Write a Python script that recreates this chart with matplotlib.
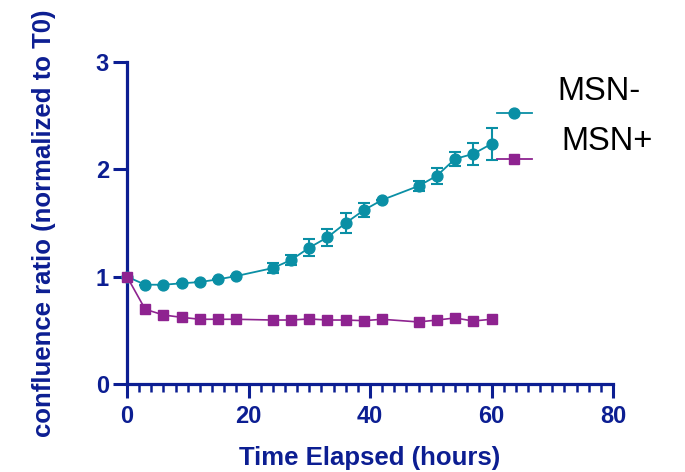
import matplotlib
matplotlib.use("Agg")
import matplotlib.pyplot as plt
from matplotlib.lines import Line2D
from matplotlib.ticker import MultipleLocator

plt.rcParams['font.family'] = ['Liberation Sans', 'DejaVu Sans']

# ---- data ----
hours = [0, 3, 6, 9, 12, 15, 18, 24, 27, 30, 33, 36, 39, 42, 48, 51, 54, 57, 60]
msn_minus = [1.00, 0.925, 0.925, 0.938, 0.95, 0.975, 1.006, 1.08, 1.155, 1.27, 1.367,
             1.50, 1.62, 1.715, 1.845, 1.94, 2.097, 2.144, 2.237]
msn_minus_err = [0.0, 0.0, 0.0, 0.0, 0.0, 0.0, 0.0, 0.05, 0.05, 0.08, 0.08,
                 0.096, 0.064, 0.0, 0.05, 0.072, 0.062, 0.104, 0.146]
msn_plus = [1.00, 0.696, 0.643, 0.621, 0.603, 0.603, 0.603, 0.596, 0.596, 0.606, 0.596,
            0.596, 0.59, 0.603, 0.578, 0.596, 0.615, 0.587, 0.603]
series_labels = ["MSN-", "MSN+"]
x_label = "Time Elapsed (hours)"
y_label = "confluence ratio (normalized to T0)"

navy = "#0c1e92"
teal = "#0a8fa5"
purple = "#8e2390"

W, H = 685, 472
fig = plt.figure(figsize=(W / 100, H / 100), dpi=100)
ax = fig.add_axes([127 / W, 88 / H, 486 / W, 322 / H])

ax.plot(hours, msn_plus, color=purple, lw=1.2, marker='s', ms=7.3, mec=purple, mfc=purple,
        clip_on=False, zorder=4)
ax.errorbar(hours, msn_minus, yerr=msn_minus_err, color=teal, lw=1.3, marker='o', ms=7.8,
            mec=teal, mfc=teal, capsize=4, capthick=1.5, elinewidth=1.5, clip_on=False, zorder=3)

ax.set_xlim(0, 80)
ax.set_ylim(0, 3)
ax.xaxis.set_major_locator(MultipleLocator(20))
ax.xaxis.set_minor_locator(MultipleLocator(2))
ax.yaxis.set_major_locator(MultipleLocator(1))

for s in ['top', 'right']:
    ax.spines[s].set_visible(False)
for s in ['left', 'bottom']:
    ax.spines[s].set_color(navy)
    ax.spines[s].set_linewidth(2.3)

ax.tick_params(axis='both', which='major', direction='out', length=10, width=2.2,
               color=navy, labelcolor=navy, labelsize=17)
ax.tick_params(axis='x', which='major', pad=5)
ax.tick_params(axis='y', which='major', pad=3)
ax.tick_params(axis='x', which='minor', direction='out', length=6, width=1.8, color=navy)
for lab in ax.get_xticklabels() + ax.get_yticklabels():
    lab.set_fontweight('bold')

ax.set_xlabel(x_label, fontsize=18.5, fontweight='bold', color=navy, labelpad=13)
ax.set_ylabel(y_label, fontsize=18.5, fontweight='bold', color=navy)
ax.yaxis.set_label_coords((56 - 127) / 486, 0.5)

# ---- legend (drawn manually, handles offset from labels as in reference) ----
def px(x, y):
    return (x / W, 1 - y / H)

for (yh, col, mk, ms), lab, ylab, xlab in zip(
        [(113, teal, 'o', 7.8), (159, purple, 's', 7.3)],
        series_labels, [91, 141], [557, 561]):
    (x0, y0), (x1, _) = px(497, yh), px(532, yh)
    fig.add_artist(Line2D([x0, x1], [y0, y0], color=col, lw=1.3, transform=fig.transFigure))
    mx, my = px(514, yh)
    fig.add_artist(Line2D([mx], [my], color=col, marker=mk, ms=ms, mfc=col, mec=col,
                          transform=fig.transFigure))
    tx, ty = px(xlab, ylab)
    fig.text(tx, ty, lab, fontsize=23.5, color='black', ha='left', va='center')

fig.savefig("out.png", dpi=100)
